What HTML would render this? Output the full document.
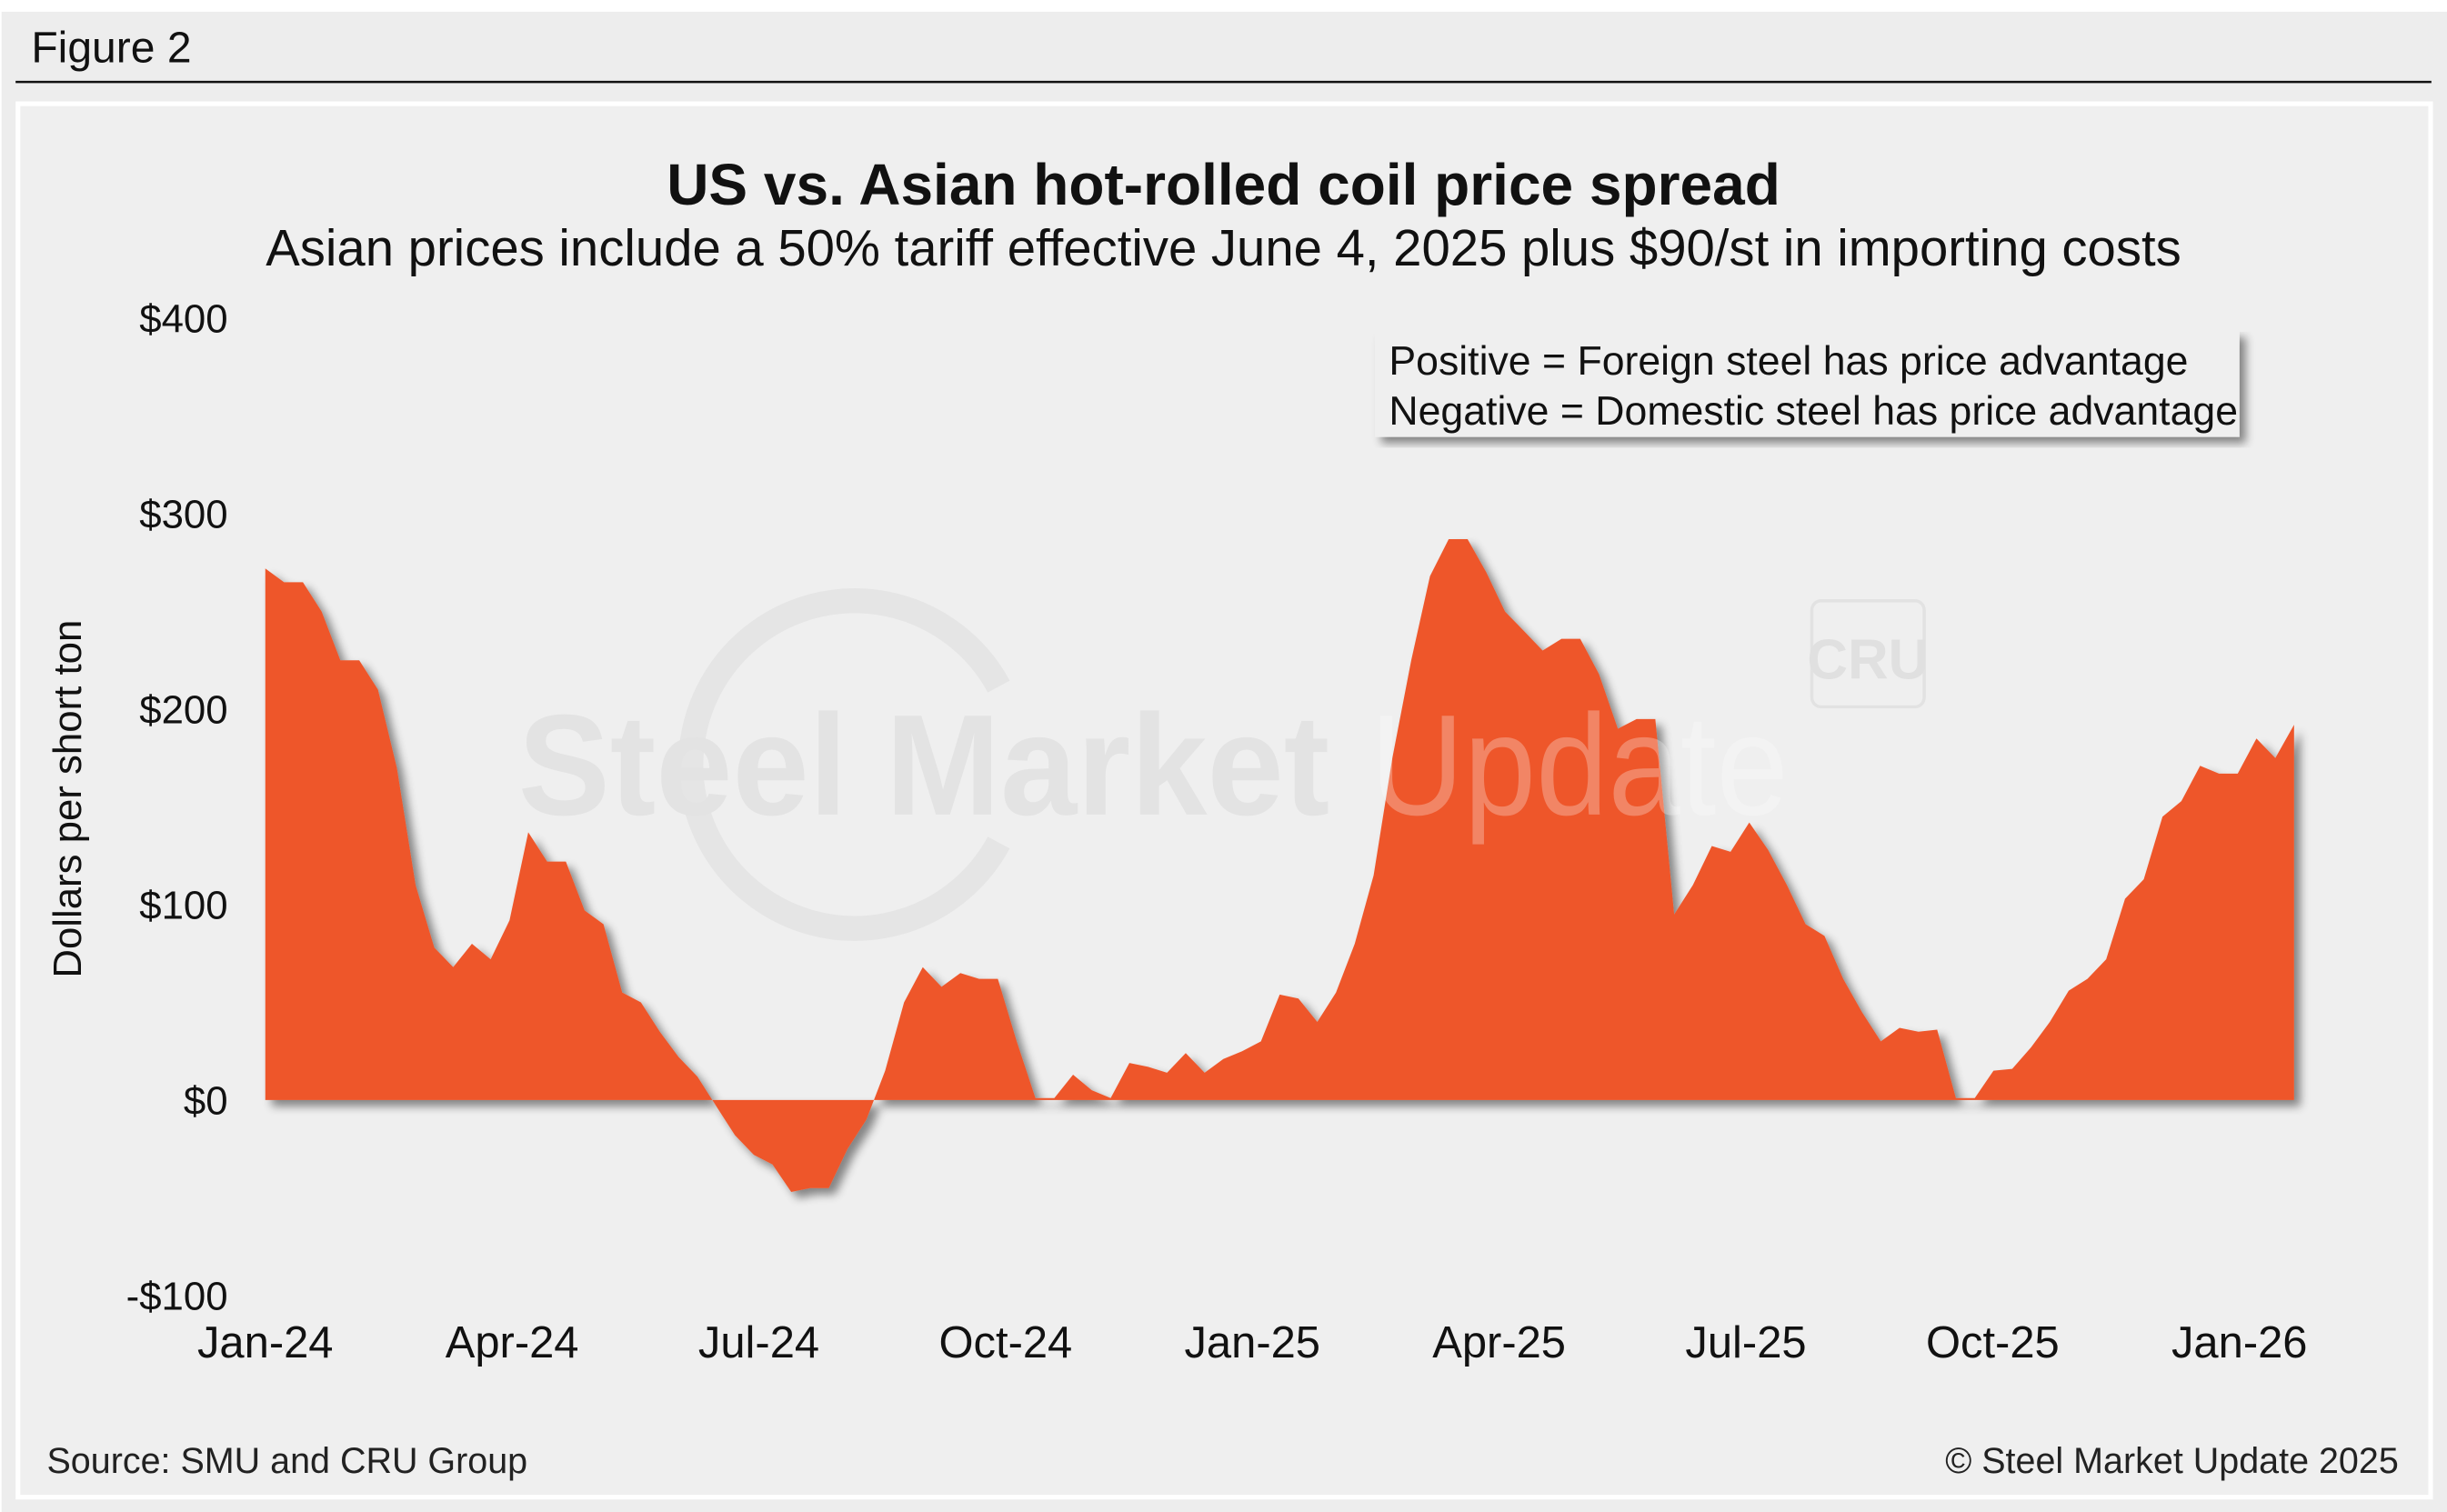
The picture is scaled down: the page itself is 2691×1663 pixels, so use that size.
<!DOCTYPE html>
<html><head><meta charset="utf-8"><style>
html,body{margin:0;padding:0;background:#fff;}
svg{display:block;}
text{font-family:"Liberation Sans",sans-serif;}
</style></head><body>
<svg id="chart" width="2691" height="1663" viewBox="0 0 1568 969" xmlns="http://www.w3.org/2000/svg">
<defs>
<filter id="sh" x="-5%" y="-5%" width="115%" height="115%">
<feGaussianBlur in="SourceAlpha" stdDeviation="3"/>
<feOffset dx="4" dy="4" result="b"/>
<feComponentTransfer><feFuncA type="linear" slope="0.45"/></feComponentTransfer>
<feMerge><feMergeNode/><feMergeNode in="SourceGraphic"/></feMerge>
</filter>
</defs>
<rect x="1" y="7.5" width="1567" height="962" fill="#ededed"/>
<text x="20" y="40" font-size="28" fill="#111">Figure 2</text>
<line x1="10" y1="52.5" x2="1558" y2="52.5" stroke="#111" stroke-width="1.5"/>
<rect x="11.5" y="66.5" width="1546" height="893" fill="#efefef" stroke="#fff" stroke-width="3"/>
<text x="784" y="131" font-size="37.3" font-weight="bold" text-anchor="middle" fill="#111">US vs. Asian hot-rolled coil price spread</text>
<text x="784" y="170" font-size="32.8" text-anchor="middle" fill="#111">Asian prices include a 50% tariff effective June 4, 2025 plus $90/st in importing costs</text>
<g>
<path d="M 640 440 A 105 105 0 1 0 640 540" fill="none" stroke="#e5e5e5" stroke-width="16"/>
<text x="332" y="522" font-size="92" font-weight="bold" fill="#e3e3e3" textLength="520" lengthAdjust="spacingAndGlyphs">Steel Market</text>
<rect x="1161" y="385" width="72" height="68" rx="6" fill="none" stroke="#e2e2e2" stroke-width="2"/>
<text x="1197" y="435" font-size="36" font-weight="bold" text-anchor="middle" fill="#e0e0e0">CRU</text>
</g>
<g id="yaxis"></g>
<g id="xaxis"></g>
<text transform="translate(52,512) rotate(-90)" font-size="25.5" text-anchor="middle" fill="#111">Dollars per short ton</text>
<g id="plot"></g>
<text x="878" y="522" font-size="92" fill="#ffffff" fill-opacity="0.28" textLength="268" lengthAdjust="spacingAndGlyphs">Update</text>
<g filter="url(#sh)">
<rect x="881" y="212" width="554" height="68" fill="#efefef"/>
</g>
<text x="890" y="240" font-size="26" fill="#111">Positive = Foreign steel has price advantage</text>
<text x="890" y="272" font-size="26" fill="#111">Negative = Domestic steel has price advantage</text>
<text x="30" y="944" font-size="23" fill="#222">Source: SMU and CRU Group</text>
<text x="1537" y="944" font-size="23" fill="#222" text-anchor="end">© Steel Market Update 2025</text>
</svg>
<script>
const spreadValues = [272,265,265,250,225,225,210,170,110,78,68,80,72,92,137,122,122,97,90,55,50,35,22,12,-3,-18,-28,-33,-47,-45,-45,-25,-10,15,50,68,58,65,62,62,30,1,1,13,5,1,19,17,14,24,14,21,25,30,54,52,40,55,80,115,175,225,268,287,287,270,250,240,230,236,236,218,190,195,195,95,110,130,127,142,128,110,90,84,62,45,30,37,35,36,1,1,15,16,27,40,56,62,72,103,113,145,153,171,167,167,185,175,192];
const yTicks = [400,300,200,100,0,-100];
const yTickLabels = ["$400","$300","$200","$100","$0","-$100"];
const xTickMonths = [0,3,6,9,12,15,18,21,24];
const xTickLabels = ["Jan-24","Apr-24","Jul-24","Oct-24","Jan-25","Apr-25","Jul-25","Oct-25","Jan-26"];

const NS="http://www.w3.org/2000/svg";
function yScale(v){return 705 - v*1.2525;}
function xMonth(m){return 170 + m*(1265/24);}
function xIdx(i){return 170 + i*(1300/(spreadValues.length-1));}

const yaxis=document.getElementById('yaxis');
yTicks.forEach((t,i)=>{
  const tx=document.createElementNS(NS,'text');
  tx.setAttribute('x',146);tx.setAttribute('y',yScale(t)+9);
  tx.setAttribute('font-size','25.5');tx.setAttribute('text-anchor','end');tx.setAttribute('fill','#111');
  tx.textContent=yTickLabels[i];
  
  
  yaxis.appendChild(tx);
});
const xaxis=document.getElementById('xaxis');
xTickMonths.forEach((m,i)=>{
  const tx=document.createElementNS(NS,'text');
  tx.setAttribute('x',xMonth(m));tx.setAttribute('y',870);
  tx.setAttribute('font-size','28.5');tx.setAttribute('text-anchor','middle');tx.setAttribute('fill','#111');
  tx.textContent=xTickLabels[i];
  
  
  xaxis.appendChild(tx);
});
let d='M'+xIdx(0)+','+yScale(0);
spreadValues.forEach((v,i)=>{d+=' L'+xIdx(i).toFixed(1)+','+yScale(v).toFixed(1);});
d+=' L'+xIdx(spreadValues.length-1)+','+yScale(0)+' Z';
const area=document.createElementNS(NS,'path');
area.setAttribute('d',d);area.setAttribute('fill','#ee572b');area.setAttribute('filter','url(#sh)');


document.getElementById('plot').appendChild(area);
</script>
</body></html>
